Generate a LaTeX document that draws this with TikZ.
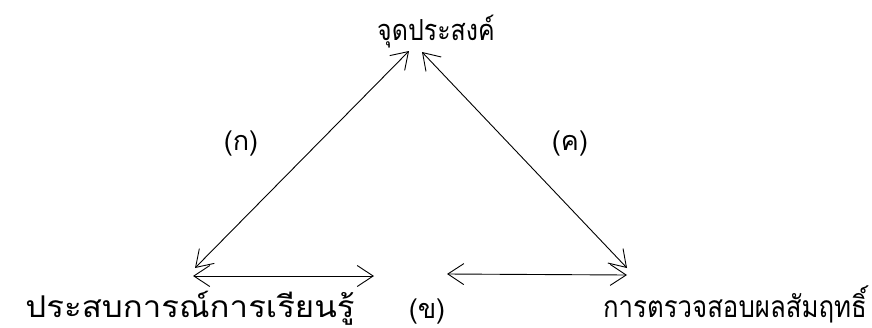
\documentclass[tikz,border=0pt]{standalone}
\usepackage{fontspec}
\newfontfamily\thaifont[Script=Thai]{Loma}
\usetikzlibrary{arrows.meta}
\begin{document}
\begin{tikzpicture}[x=1pt,y=-1pt,
  lbl/.style={font=\thaifont\fontsize{30}{36}\selectfont, inner sep=0pt, anchor=base},
  tlbl/.style={font=\thaifont\fontsize{29}{34}\selectfont, inner sep=0pt, anchor=base},
  plbl/.style={font=\thaifont\fontsize{27}{32}\selectfont, inner sep=0pt, anchor=base},
  arr/.style={{Straight Barb[length=16pt,width=21pt]}-{Straight Barb[length=16pt,width=21pt]}, line width=0.9pt}]
\useasboundingbox (0,0) rectangle (872,327);
\node[tlbl] (top) at (436,40) {\scalebox{0.86}[1]{จุดประสงค์}};
\node[lbl] (left) at (190,317) {\scalebox{1.1}[1]{ประสบการณ์การเรียนรู้}};
\node[lbl] (right) at (735,317) {\scalebox{0.86}[1]{การตรวจสอบผลสัมฤทธิ์}};
\node[plbl] (ka) at (241,150) {(ก)};
\node[plbl] (kho) at (427,318) {(ข)};
\node[plbl] (kho2) at (570,150) {(ค)};
\coordinate (t1) at (409,51);
\coordinate (t2) at (422,52);
\coordinate (l1) at (195,268);
\coordinate (r1) at (627,268);
\coordinate (h1) at (193,276);
\coordinate (h2) at (374,276);
\coordinate (h3) at (447,274);
\coordinate (h4) at (627,275);
\draw[arr] (l1) -- (t1);
\draw[arr] (t2) -- (r1);
\draw[arr] (h1) -- (h2);
\draw[arr] (h3) -- (h4);
\end{tikzpicture}
\end{document}
